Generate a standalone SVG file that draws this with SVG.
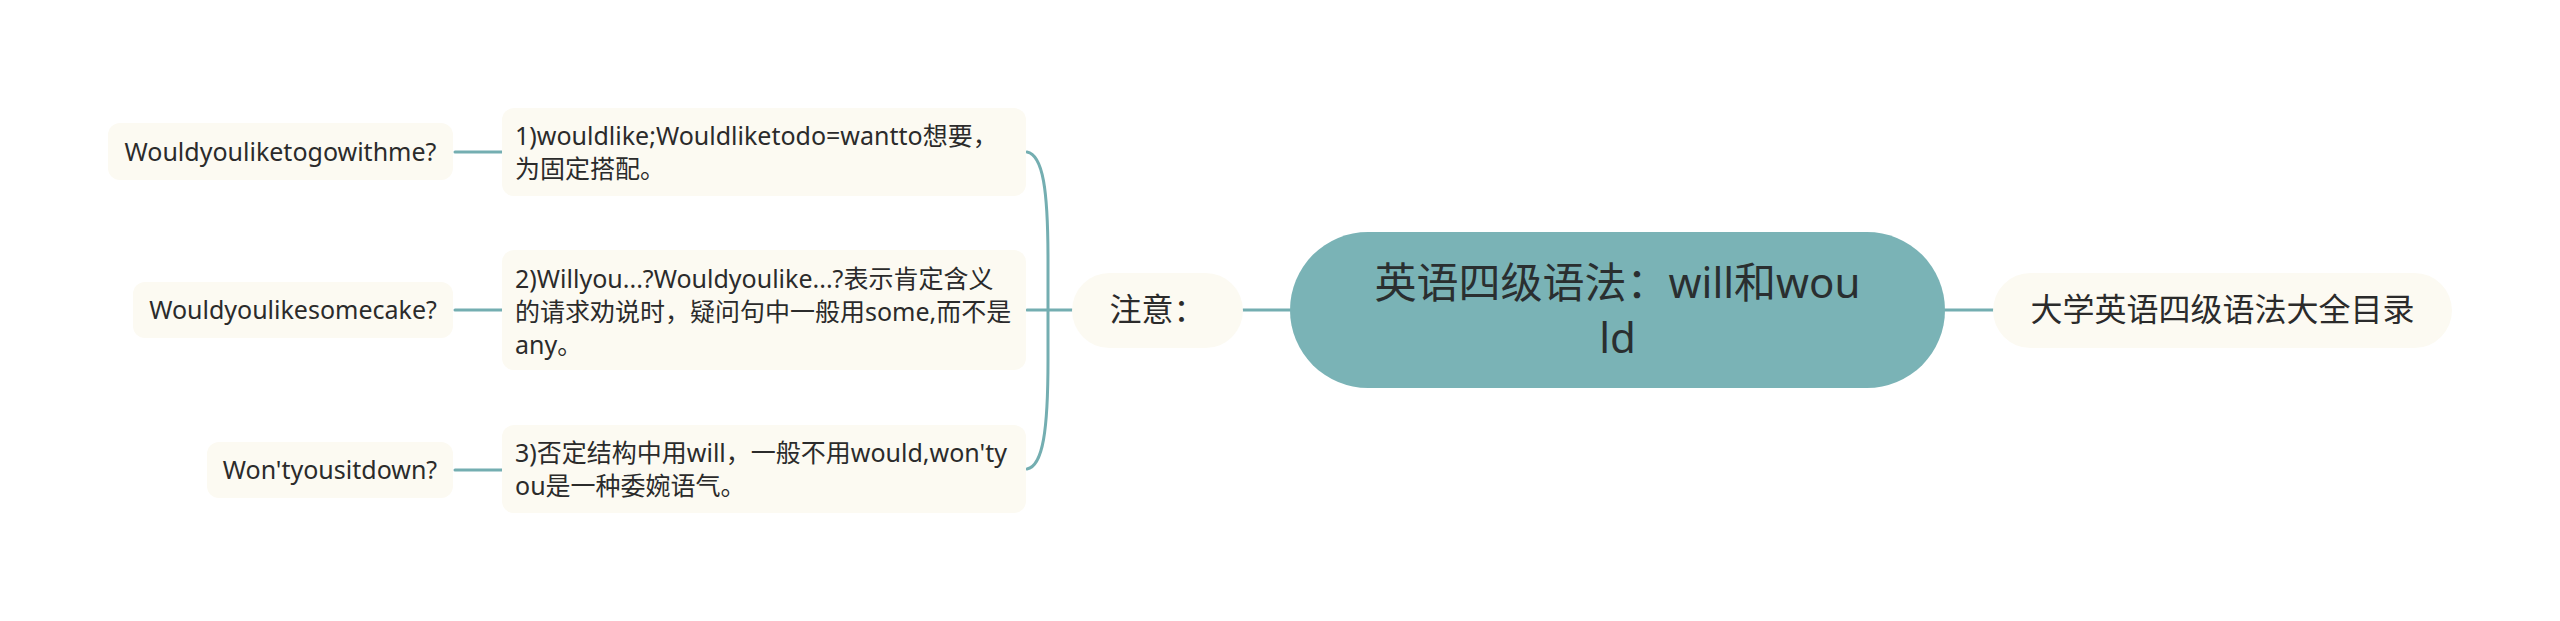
<svg xmlns="http://www.w3.org/2000/svg" width="2560" height="621" viewBox="0 0 2560 621">
<style>
.bg{fill:#ffffff}
.conn{fill:none;stroke:#74aeb1;stroke-width:3;stroke-linecap:round}
.sub{fill:#fcfaf2}
.root{fill:#7ab3b6}
.t{font-family:"Noto Sans","Noto Sans CJK SC",sans-serif;fill:#2b2b2b}
.t25{font-size:25px}
.t32{font-size:32px}
.t42{font-size:42px;fill:#2a2f30}
</style>
<rect class="bg" x="0" y="0" width="2560" height="621"/>
<g id="connectors">
<line class="conn" x1="1243" y1="310" x2="1290" y2="310"/>
<line class="conn" x1="1945" y1="310" x2="1993" y2="310"/>
<line class="conn" x1="1027" y1="310" x2="1072" y2="310"/>
<path class="conn" d="M1027,152 C1043,155 1048,190 1048,260 L1048,360 C1048,430 1043,466 1027,469"/>
<line class="conn" x1="455" y1="152" x2="502" y2="152"/>
<line class="conn" x1="455" y1="310" x2="502" y2="310"/>
<line class="conn" x1="455" y1="470" x2="502" y2="470"/>
</g>
<g id="root">
<rect class="root" x="1290" y="232" width="655" height="156" rx="78"/>
<text class="t t42" x="1617.5" y="298" text-anchor="middle">英语四级语法：will和wou</text>
<text class="t t42" x="1617.5" y="353" text-anchor="middle">ld</text>
</g>
<g id="n-mulu">
<rect class="sub" x="1993" y="273" width="459" height="75" rx="37.5"/>
<text class="t t32" x="2222.5" y="321" text-anchor="middle">大学英语四级语法大全目录</text>
</g>
<g id="n-zhuyi">
<rect class="sub" x="1072" y="273" width="171" height="75" rx="37.5"/>
<text class="t t32" x="1157.5" y="321" text-anchor="middle">注意：</text>
</g>
<g id="n-1">
<rect class="sub" x="502" y="108" width="524" height="88" rx="12"/>
<text class="t t25" x="515" y="145">1)wouldlike;Wouldliketodo=wantto想要，</text>
<text class="t t25" x="515" y="178">为固定搭配。</text>
</g>
<g id="n-2">
<rect class="sub" x="502" y="250" width="524" height="120" rx="12"/>
<text class="t t25" x="515" y="288">2)Willyou...?Wouldyoulike...?表示肯定含义</text>
<text class="t t25" x="515" y="321">的请求劝说时，疑问句中一般用some,而不是</text>
<text class="t t25" x="515" y="354">any。</text>
</g>
<g id="n-3">
<rect class="sub" x="502" y="425" width="524" height="88" rx="12"/>
<text class="t t25" x="515" y="462">3)否定结构中用will，一般不用would,won'ty</text>
<text class="t t25" x="515" y="495">ou是一种委婉语气。</text>
</g>
<g id="leaf-1">
<rect class="sub" x="108" y="123" width="345" height="57" rx="12"/>
<text class="t t25" x="280.5" y="161" text-anchor="middle">Wouldyouliketogowithme?</text>
</g>
<g id="leaf-2">
<rect class="sub" x="133" y="282" width="320" height="56" rx="12"/>
<text class="t t25" x="293" y="319" text-anchor="middle">Wouldyoulikesomecake?</text>
</g>
<g id="leaf-3">
<rect class="sub" x="207" y="442" width="246" height="56" rx="12"/>
<text class="t t25" x="330" y="479" text-anchor="middle">Won'tyousitdown?</text>
</g>
</svg>
